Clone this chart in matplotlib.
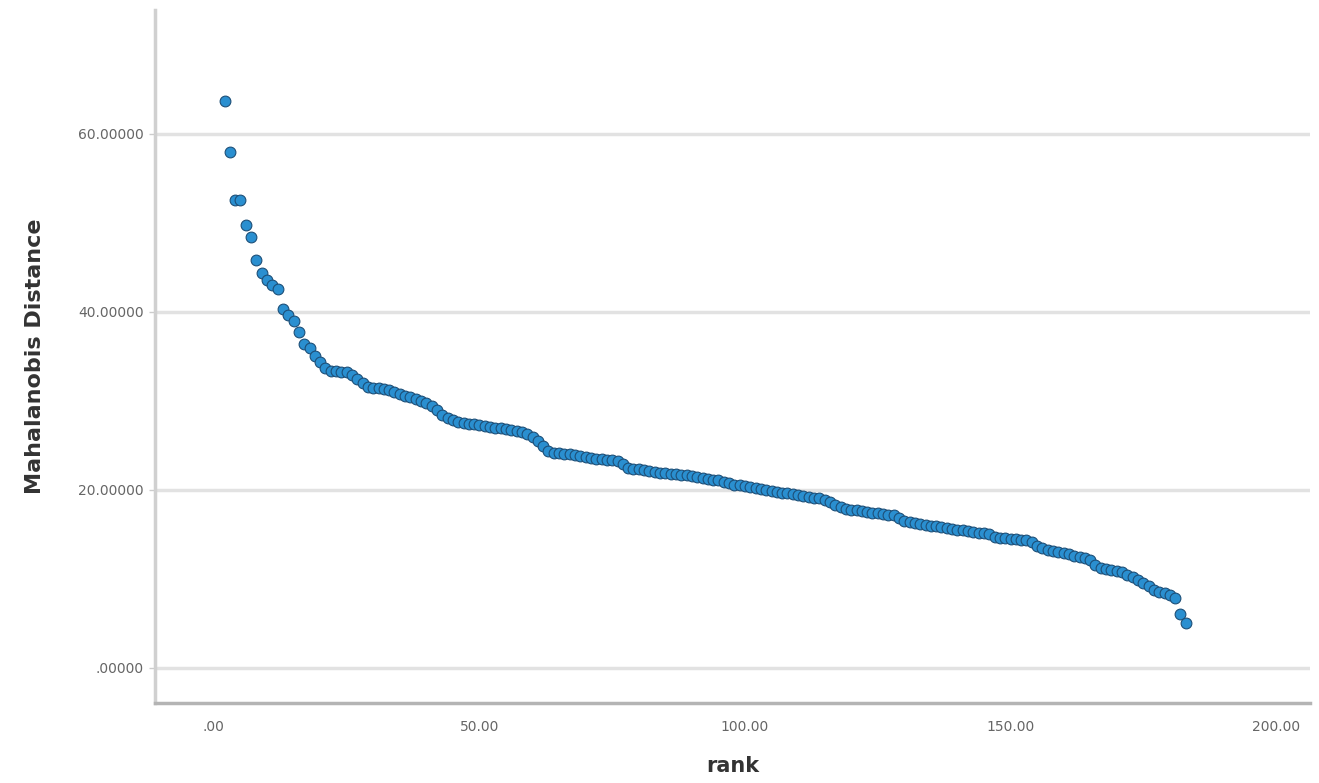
import matplotlib
matplotlib.use("Agg")
import matplotlib.pyplot as plt
import matplotlib.ticker as mticker

# rank of each case (sorted by distance, largest first)
rank = list(range(2, 184))

mahal = [
    63.7, 57.9, 52.6, 52.6, 49.7, 48.4, 45.8, 44.4, 43.6, 43.0,
    42.6, 40.3, 39.7, 39.0, 37.7, 36.4, 35.9, 35.0, 34.4, 33.7,
    33.4, 33.4, 33.3, 33.2, 32.9, 32.5, 32.0, 31.6, 31.5, 31.4,
    31.3, 31.2, 31.0, 30.8, 30.6, 30.4, 30.2, 30.0, 29.8, 29.4,
    29.0, 28.4, 28.1, 27.8, 27.6, 27.5, 27.4, 27.4, 27.3, 27.2,
    27.1, 27.0, 26.9, 26.8, 26.7, 26.6, 26.5, 26.3, 25.9, 25.5,
    24.9, 24.4, 24.2, 24.1, 24.0, 24.0, 23.9, 23.8, 23.7, 23.6,
    23.5, 23.5, 23.4, 23.4, 23.3, 22.9, 22.5, 22.4, 22.3, 22.2,
    22.1, 22.0, 21.9, 21.9, 21.8, 21.8, 21.7, 21.7, 21.6, 21.4,
    21.3, 21.2, 21.1, 21.1, 20.9, 20.8, 20.6, 20.5, 20.4, 20.3,
    20.2, 20.1, 20.0, 19.9, 19.8, 19.7, 19.6, 19.5, 19.4, 19.3,
    19.2, 19.1, 19.1, 18.9, 18.6, 18.3, 18.1, 17.9, 17.8, 17.7,
    17.6, 17.5, 17.4, 17.4, 17.3, 17.2, 17.2, 16.9, 16.5, 16.4,
    16.3, 16.2, 16.1, 16.0, 15.9, 15.8, 15.7, 15.6, 15.5, 15.5,
    15.4, 15.3, 15.2, 15.2, 15.0, 14.7, 14.6, 14.6, 14.5, 14.5,
    14.4, 14.4, 14.1, 13.7, 13.5, 13.3, 13.1, 13.0, 12.9, 12.8,
    12.6, 12.5, 12.4, 12.1, 11.6, 11.2, 11.1, 11.0, 10.9, 10.8,
    10.5, 10.2, 9.9, 9.6, 9.2, 8.8, 8.5, 8.4, 8.2, 7.9,
    6.1, 5.0,
]

x_ticks = [0, 50, 100, 150, 200]
y_ticks = [0, 20, 40, 60]

fig = plt.figure(figsize=(13.19, 7.83), dpi=100)
ax = fig.add_axes([0.1175, 0.1022, 0.8757, 0.885])

ax.scatter(rank, mahal, s=60, facecolor="#2a8fd0", edgecolor="#1d4f78",
           linewidth=0.8, zorder=3)

ax.set_xlim(-11.1, 206.4)
ax.set_ylim(-3.93, 73.9)
ax.set_xticks(x_ticks)
ax.set_yticks(y_ticks)
ax.xaxis.set_major_formatter(mticker.FuncFormatter(lambda v, p: f"{v:.2f}".lstrip("0") if v < 1 else f"{v:.2f}"))
ax.yaxis.set_major_formatter(mticker.FuncFormatter(lambda v, p: f"{v:.5f}".lstrip("0") if v < 1 else f"{v:.5f}"))

ax.grid(axis="y", color="#e2e2e2", linewidth=2.5, zorder=0)
ax.set_axisbelow(True)

for s in ["top", "right"]:
    ax.spines[s].set_visible(False)
ax.spines["left"].set_color("#d0d0d0")
ax.spines["left"].set_linewidth(2.5)
ax.spines["bottom"].set_color("#b4b4b4")
ax.spines["bottom"].set_linewidth(2.5)

ax.tick_params(axis="x", length=0, pad=12, labelsize=10, labelcolor="#666666")
ax.tick_params(axis="y", length=4, width=1, color="#cccccc", pad=4,
               labelsize=10, labelcolor="#666666")

ax.set_xlabel("rank", fontsize=15, fontweight="bold", color="#333333", labelpad=16)
ax.set_ylabel("Mahalanobis Distance", fontsize=16, fontweight="bold",
              color="#333333", labelpad=24)

fig.savefig("out.png", dpi=100)
